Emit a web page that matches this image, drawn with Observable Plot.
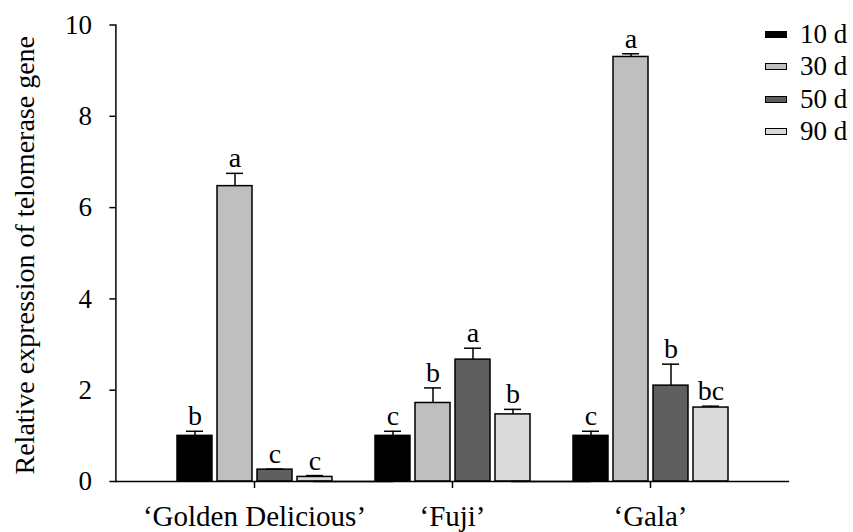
<!DOCTYPE html>
<html>
<head>
<meta charset="utf-8">
<script src="https://cdn.jsdelivr.net/npm/d3@7"></script>
<script src="https://cdn.jsdelivr.net/npm/@observablehq/plot@0.6"></script>
<style>
  html, body { margin: 0; padding: 0; background: #fff; }
  #wrap { position: relative; width: 853px; height: 532px; overflow: hidden; }
  #legend { position: absolute; left: 765px; top: 18px; font-family: "Liberation Serif", serif; font-size: 27px; color: #000; }
  #legend .row { display: flex; align-items: center; height: 32.5px; white-space: nowrap; }
  #legend .sw { width: 20px; height: 5px; border: 1px solid #000; margin-right: 13px; }
</style>
</head>
<body>
<div id="wrap"><div id="chart"></div><div id="legend"></div></div>
<script>
const categories = ["‘Golden Delicious’", "‘Fuji’", "‘Gala’"];
const series = ["10 d", "30 d", "50 d", "90 d"];
const colors = ["#000000", "#bfbfbf", "#5f5f5f", "#dadada"];
const d10 = [1.00, 1.00, 1.00];
const d30 = [6.47, 1.72, 9.30];
const d50 = [0.26, 2.67, 2.10];
const d90 = [0.10, 1.47, 1.62];
const e10 = [0.10, 0.10, 0.10];
const e30 = [0.28, 0.33, 0.07];
const e50 = [0.01, 0.25, 0.47];
const e90 = [0.03, 0.11, 0.03];
const l10 = ["b", "c", "c"];
const l30 = ["a", "b", "a"];
const l50 = ["c", "a", "b"];
const l90 = ["c", "b", "bc"];
const yTicks = [0, 2, 4, 6, 8, 10];
const yLabel = "Relative expression of telomerase gene";

const vals = [d10, d30, d50, d90], errs = [e10, e30, e50, e90], lets = [l10, l30, l50, l90];
const data = [];
categories.forEach((c, ci) => series.forEach((s, si) => data.push({
  cat: c, s, v: vals[si][ci], e: errs[si][ci], top: vals[si][ci] + errs[si][ci], lab: lets[si][ci]
})));

const W = 853, H = 532, mL = 114, mR = 63;
const fxInner = 0.202, fxOuter = 0.2995;
const fxStep = (W - mL - mR) / (categories.length - fxInner + 2 * fxOuter);
const facetOffset = fxOuter * fxStep; // distance from frame left to first facet
const halfGap = fxInner * fxStep / 2;
const ext = Math.max(facetOffset, halfGap) + 0.5;

const font = "Liberation Serif";
const plot = Plot.plot({
  width: W, height: H,
  marginLeft: mL, marginRight: mR, marginTop: 24.5, marginBottom: 51,
  style: { fontFamily: font, color: "#000", background: "#fff" },
  fx: { domain: categories, paddingInner: fxInner, paddingOuter: fxOuter, label: null },
  x: { domain: series, paddingInner: 0.137, paddingOuter: 0, axis: null },
  y: { domain: [0, 10], axis: null },
  color: { domain: series, range: colors },
  marks: [
    Plot.barY(data, { fx: "cat", x: "s", y: "v", fill: "s", stroke: "#000", strokeWidth: 1.5 }),
    Plot.ruleX(data, { fx: "cat", x: "s", y1: "v", y2: "top", stroke: "#000", strokeWidth: 1.5 }),
    Plot.tickY(data, { fx: "cat", x: "s", y: "top", stroke: "#000", strokeWidth: 1.5, insetLeft: 9, insetRight: 9 }),
    Plot.text(data, { fx: "cat", x: "s", y: "top", text: "lab", lineAnchor: "bottom", dy: -6, fontSize: 28, fill: "#000" }),
    Plot.ruleY([0], { stroke: "#000", strokeWidth: 1.5, insetLeft: -ext, insetRight: -ext }),
    Plot.frame({ anchor: "left", facetAnchor: "left", stroke: "#000", strokeWidth: 1.5, dx: -facetOffset }),
    Plot.axisY({ ticks: yTicks, tickSize: 6, tickPadding: 18, fontSize: 27, label: null, strokeWidth: 1.5, dx: -facetOffset }),
    Plot.axisFx({ anchor: "bottom", tickSize: 7, tickPadding: 17, fontSize: 29, label: null, strokeWidth: 1.5 }),
    Plot.text([{ cat: categories[0] }], { fx: "cat", text: () => yLabel, frameAnchor: "left", textAnchor: "middle", rotate: -90, dx: -facetOffset - 91, dy: 2, lineAnchor: "middle", fontSize: 28, fill: "#000" })
  ]
});
document.getElementById("chart").appendChild(plot);

const legend = document.getElementById("legend");
series.forEach((s, i) => {
  const row = document.createElement("div");
  row.className = "row";
  const sw = document.createElement("span");
  sw.className = "sw";
  sw.style.background = colors[i];
  const t = document.createElement("span");
  t.textContent = s;
  row.appendChild(sw); row.appendChild(t);
  legend.appendChild(row);
});
</script>
</body>
</html>
